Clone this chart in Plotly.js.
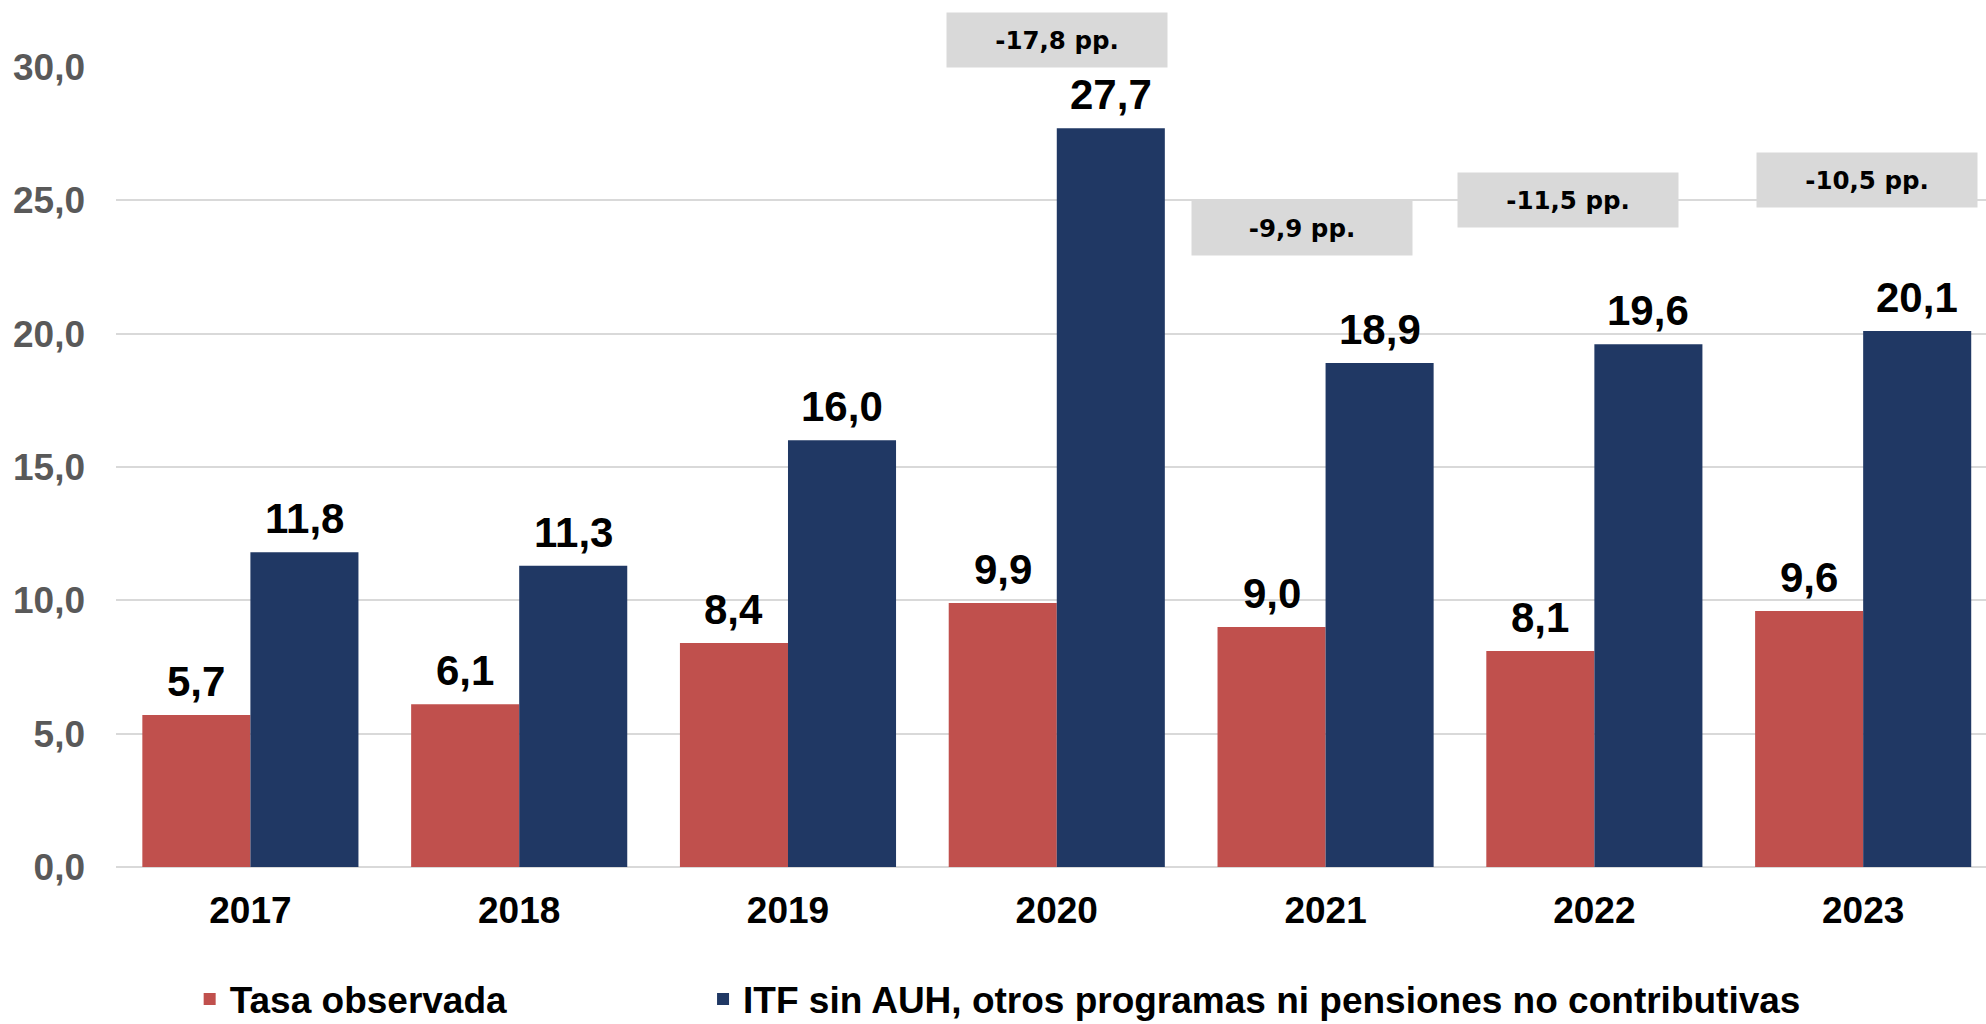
<!DOCTYPE html>
<html>
<head>
<meta charset="utf-8">
<script src="https://cdn.plot.ly/plotly-3.0.1.min.js"></script>
<style>html,body{margin:0;padding:0;background:#fff;}#chart{width:1986px;height:1024px;}</style>
</head>
<body>
<div id="chart"></div>
<script>
const years = ['2017', '2018', '2019', '2020', '2021', '2022', '2023'];
const tasaObservada = [5.7, 6.1, 8.4, 9.9, 9.0, 8.1, 9.6];
const itfSinAUH = [11.8, 11.3, 16.0, 27.7, 18.9, 19.6, 20.1];
const seriesNames = ['Tasa observada', 'ITF sin AUH, otros programas ni pensiones no contributivas'];
const diffLabels = ['-17,8 pp.', '-9,9 pp.', '-11,5 pp.', '-10,5 pp.'];
const diffYears = ['2020', '2021', '2022', '2023'];

const FONT = 'Liberation Sans, Arial, sans-serif';
const red = '#C0504D';
const navy = '#203864';
const BARGAP = 0.196;

const labelFont = {family: FONT, size: 42, color: '#000000', weight: 'bold'};

const traces = [
  {
    type: 'bar', name: seriesNames[0], x: years, y: tasaObservada,
    marker: {color: red}, legend: 'legend', hoverinfo: 'x+y'
  },
  {
    type: 'bar', name: seriesNames[1], x: years, y: itfSinAUH,
    marker: {color: navy}, legend: 'legend2', hoverinfo: 'x+y'
  }
];

const fmt = v => v.toFixed(1).replace('.', ',');
const halfBar = (1 - BARGAP) / 4;
const valueLabels = [];
[tasaObservada, itfSinAUH].forEach((series, s) => {
  series.forEach((v, i) => {
    valueLabels.push({
      text: fmt(v), xref: 'x', yref: 'y',
      x: i + (s === 0 ? -halfBar : halfBar), y: v,
      xanchor: 'center', yanchor: 'bottom', yshift: 9, borderpad: 0,
      showarrow: false, font: labelFont
    });
  });
});

// positions of the grey difference boxes (category index offset, paper y)
const boxPos = [[0, 1.034], [-0.086, 0.799], [-0.097, 0.834], [0.015, 0.859]];
const diffBoxes = diffLabels.map((t, i) => ({
  text: t, xref: 'x', yref: 'paper',
  x: years.indexOf(diffYears[i]) + boxPos[i][0], y: boxPos[i][1],
  xanchor: 'center', yanchor: 'middle', showarrow: false,
  bgcolor: '#D9D9D9', width: 220, height: 54, borderpad: 0,
  font: {family: 'DejaVu Sans, sans-serif', size: 24.5, color: '#000000', weight: 'bold'}
}));

const legendFont = {family: FONT, size: 37, color: '#000000', weight: 'bold'};

const layout = {
  width: 1986, height: 1024,
  margin: {l: 116, r: 0, t: 67, b: 157},
  paper_bgcolor: '#ffffff', plot_bgcolor: '#ffffff',
  separators: ',.',
  barmode: 'group', bargap: BARGAP, bargroupgap: 0,
  showlegend: true,
  legend: {
    orientation: 'h', xref: 'container', yref: 'container',
    x: 0.0955, xanchor: 'left', y: 0.024, yanchor: 'middle',
    font: legendFont, bgcolor: 'rgba(0,0,0,0)'
  },
  legend2: {
    orientation: 'h', xref: 'container', yref: 'container',
    x: 0.354, xanchor: 'left', y: 0.024, yanchor: 'middle',
    font: legendFont, bgcolor: 'rgba(0,0,0,0)'
  },
  xaxis: {
    type: 'category', range: [-0.5, 6.457],
    showgrid: false, showline: false, zeroline: false, ticks: '',
    tickfont: {family: FONT, size: 37, color: '#000000', weight: 'bold'},
    ticklabelstandoff: 18, fixedrange: true
  },
  yaxis: {
    range: [0, 30], dtick: 5, tick0: 0, tickformat: '.1f',
    showgrid: true, gridcolor: '#D9D9D9', gridwidth: 2,
    zeroline: true, zerolinecolor: '#D9D9D9', zerolinewidth: 2,
    showline: false, ticks: '',
    tickfont: {family: FONT, size: 37, color: '#595959', weight: 'bold'},
    ticklabelstandoff: 30, fixedrange: true
  },
  annotations: valueLabels.concat(diffBoxes)
};

Plotly.newPlot('chart', traces, layout, {displayModeBar: false, staticPlot: true});
</script>
</body>
</html>
